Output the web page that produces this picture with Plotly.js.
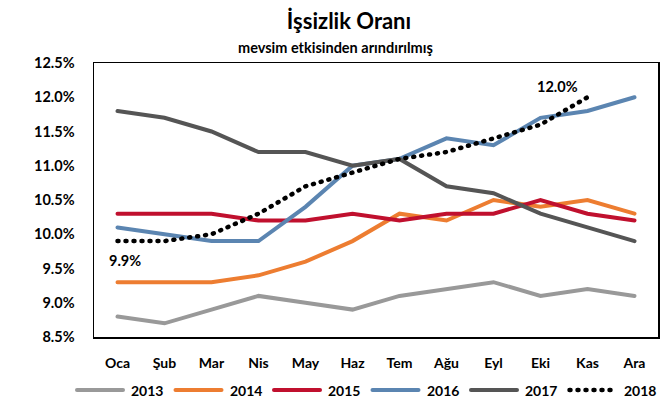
<!DOCTYPE html>
<html>
<head>
<meta charset="utf-8">
<script src="https://cdn.plot.ly/plotly-3.0.1.min.js"></script>
<style>
html,body{margin:0;padding:0;background:#fff;}
#chart{width:670px;height:400px;}
.js-line, .shapelayer path { stroke-linecap: round !important; }
</style>
</head>
<body>
<div id="chart"></div>
<script>
// ---- data ----
const months = ["Oca","Şub","Mar","Nis","May","Haz","Tem","Ağu","Eyl","Eki","Kas","Ara"];
const years  = ["2013","2014","2015","2016","2017","2018"];
const y2013 = [8.8, 8.7, 8.9, 9.1, 9.0, 8.9, 9.1, 9.2, 9.3, 9.1, 9.2, 9.1];
const y2014 = [9.3, 9.3, 9.3, 9.4, 9.6, 9.9, 10.3, 10.2, 10.5, 10.4, 10.5, 10.3];
const y2015 = [10.3, 10.3, 10.3, 10.2, 10.2, 10.3, 10.2, 10.3, 10.3, 10.5, 10.3, 10.2];
const y2016 = [10.1, 10.0, 9.9, 9.9, 10.4, 11.0, 11.1, 11.4, 11.3, 11.7, 11.8, 12.0];
const y2017 = [11.8, 11.7, 11.5, 11.2, 11.2, 11.0, 11.1, 10.7, 10.6, 10.3, 10.1, 9.9];
const y2018 = [9.9, 9.9, 10.0, 10.3, 10.7, 10.9, 11.1, 11.2, 11.4, 11.6, 12.0];
const yTicks = [8.5, 9.0, 9.5, 10.0, 10.5, 11.0, 11.5, 12.0, 12.5];

// ---- styling ----
const series = [y2013, y2014, y2015, y2016, y2017, y2018];
const colors = ["#999999", "#ED7D31", "#C0102E", "#5B85B1", "#555555", "#000000"];
const dashes = ["solid", "solid", "solid", "solid", "solid", "1px,7px"];
const widths = [4, 4, 4, 4, 4, 4.5];
const FONT = "Lato, 'Open Sans', sans-serif";

const W = 670, H = 400, M = {l: 94, r: 12, t: 63, b: 63};
const pw = W - M.l - M.r, ph = H - M.t - M.b;
const px2x = p => (p - M.l) / pw;
const py2y = p => (H - M.b - p) / ph;
const fmt = v => v.toFixed(1) + "%";

const traces = series.map((ys, i) => ({
  type: "scatter", mode: "lines",
  x: months.slice(0, ys.length), y: ys,
  name: years[i],
  line: {color: colors[i], width: widths[i], dash: dashes[i]},
  showlegend: false, hoverinfo: "skip"
}));

const annotations = [
  {xref: "paper", yref: "paper", x: px2x(335), y: py2y(47), xanchor: "center", yanchor: "middle",
   text: "mevsim etkisinden arındırılmış", showarrow: false,
   font: {family: FONT, size: 14.5, color: "#000", weight: 700}},
  {x: months[0], y: y2018[0], text: fmt(y2018[0]), showarrow: false,
   xshift: 7, yshift: -19, font: {family: FONT, size: 14.5, color: "#000", weight: 700}},
  {x: months[y2018.length - 1], y: y2018[y2018.length - 1], text: fmt(y2018[y2018.length - 1]), showarrow: false,
   xshift: -30, yshift: 11, font: {family: FONT, size: 14.5, color: "#000", weight: 700}}
];

// custom legend
const shapes = [];
const legY = py2y(390);
const legStart = 75, legStep = 98.5, lineLen = 50;
years.forEach((yr, i) => {
  const x0 = legStart + i * legStep;
  shapes.push({type: "line", xref: "paper", yref: "paper",
    x0: px2x(x0 + 2), x1: px2x(x0 + lineLen - 2), y0: legY, y1: legY,
    line: {color: colors[i], width: widths[i], dash: dashes[i]}});
  annotations.push({xref: "paper", yref: "paper", x: px2x(x0 + lineLen + 4), y: legY,
    xanchor: "left", yanchor: "middle", text: yr, showarrow: false,
    font: {family: FONT, size: 14, color: "#000", weight: 700}});
});

const layout = {
  width: W, height: H,
  margin: M,
  paper_bgcolor: "#fff", plot_bgcolor: "#fff",
  title: {text: "İşsizlik Oranı", x: 349 / W, xanchor: "center", xref: "container",
          y: 1 - 21 / H, yanchor: "middle", yref: "container",
          font: {family: FONT, size: 22, color: "#000", weight: 700}},
  xaxis: {type: "category", range: [-0.5, 11.5], showgrid: false, zeroline: false,
          showline: true, mirror: true, linecolor: "#000", linewidth: 1.5,
          ticks: "", ticklabelstandoff: 13,
          tickfont: {family: FONT, size: 14, color: "#000", weight: 700}},
  yaxis: {range: [8.5, 12.5], tickvals: yTicks, ticktext: yTicks.map(fmt),
          showgrid: false, zeroline: false,
          showline: true, mirror: true, linecolor: "#000", linewidth: 1.5,
          ticks: "", ticklabelstandoff: 15,
          tickfont: {family: FONT, size: 14.5, color: "#000", weight: 700}},
  shapes: shapes,
  annotations: annotations,
  showlegend: false
};

Plotly.newPlot("chart", traces, layout, {displayModeBar: false, staticPlot: true});
</script>
</body>
</html>
